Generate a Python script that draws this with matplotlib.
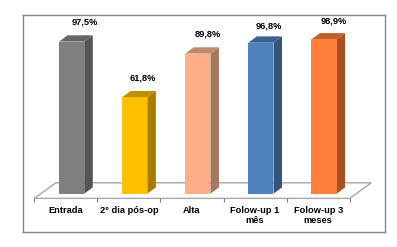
"""Pseudo-3D column chart: percentages at five follow-up moments."""
import matplotlib

matplotlib.use("Agg")
import matplotlib.pyplot as plt
from matplotlib.patches import Polygon

categories = ["Entrada", "2° dia pós-op", "Alta", "Folow-up 1\nmês", "Folow-up 3\nmeses"]
values = [97.5, 61.8, 89.8, 96.8, 98.9]
value_labels = ["97,5%", "61,8%", "89,8%", "96,8%", "98,9%"]

front_colors = ["#7F7F7F", "#FFC000", "#FFAF87", "#4F81BD", "#FF7F3C"]
side_colors = ["#555555", "#A67D00", "#A6785F", "#35547B", "#A55228"]
top_colors = ["#666666", "#BF9000", "#BF8A6C", "#3A6291", "#BF602C"]

# value label offsets from the top centre of each bar, in pixels
label_dx = [12.8, 8.0, 9.7, 7.5, 9.5]
label_dy = [20.0, 19.0, 19.3, 16.6, 18.3]

W, H = 397, 247
FRAME = (22.5, 14.7, 385.3, 232.3)  # left, top, right, bottom in pixels
PX_PER_CAT = 63.08
PX_PER_UNIT = 1.56
AXIS_LEFT_PX = 34.3
BASE_PX = 193.7

BAR_W = 0.40
SHIFT = 0.092
DX = 0.135   # depth offset in category units
DY = 4.04    # depth offset in value units
FLOOR_DX = 0.342
FLOOR_DY = 10.0
FLOOR_FRONT = -3.0


def main() -> None:
    plt.rcParams["font.family"] = ["Liberation Sans", "DejaVu Sans"]

    fig = plt.figure(figsize=(W / 100, H / 100), dpi=100, facecolor="white")
    left, top, right, bottom = FRAME
    ax = fig.add_axes([left / W, 1 - bottom / H, (right - left) / W, (bottom - top) / H])
    ax.set_xlim((left - AXIS_LEFT_PX) / PX_PER_CAT - 0.5, (right - AXIS_LEFT_PX) / PX_PER_CAT - 0.5)
    ax.set_ylim((BASE_PX - bottom) / PX_PER_UNIT, (BASE_PX - top) / PX_PER_UNIT)
    ax.set_xticks([])
    ax.set_yticks([])
    for spine in ax.spines.values():
        spine.set_color("#868686")
        spine.set_linewidth(1.0)

    # floor of the 3D box
    x0, x1 = -0.5, len(categories) - 0.5
    floor_line = "#A6A6A6"
    ax.add_patch(Polygon(
        [(x0, FLOOR_FRONT), (x1, FLOOR_FRONT), (x1 + FLOOR_DX, FLOOR_FRONT + FLOOR_DY), (x0 + FLOOR_DX, FLOOR_FRONT + FLOOR_DY)],
        closed=True, facecolor="white", edgecolor=floor_line, lw=1.0, zorder=1,
    ))
    ax.plot([x0 + i for i in range(len(categories) + 1)], [FLOOR_FRONT - 1.3] * (len(categories) + 1),
            ls="none", marker="|", ms=3.0, mew=0.8, color="#7F7F7F", zorder=2, clip_on=False)

    for i, v in enumerate(values):
        a = i + SHIFT - BAR_W / 2
        b = i + SHIFT + BAR_W / 2
        ax.add_patch(Polygon([(a, 0), (b, 0), (b, v), (a, v)], closed=True,
                             facecolor=front_colors[i], edgecolor="none", zorder=4))
        ax.add_patch(Polygon([(b, 0), (b + DX, DY), (b + DX, v + DY), (b, v)], closed=True,
                             facecolor=side_colors[i], edgecolor="none", zorder=3))
        ax.add_patch(Polygon([(a, v), (b, v), (b + DX, v + DY), (a + DX, v + DY)], closed=True,
                             facecolor=top_colors[i], edgecolor="none", zorder=3))
        ax.annotate(value_labels[i], (i + SHIFT, v), xytext=(label_dx[i] * 0.72, label_dy[i] * 0.72),
                    textcoords="offset points", ha="center", va="center",
                    fontsize=6.7, fontweight="bold", color="black", zorder=5)
        ax.annotate(categories[i], (i, FLOOR_FRONT), xytext=(0, -5.8), textcoords="offset points",
                    ha="center", va="top", fontsize=6.7, fontweight="bold", color="black",
                    linespacing=1.15, annotation_clip=False)

    fig.savefig("out.png", dpi=100, facecolor="white")


if __name__ == "__main__":
    main()
